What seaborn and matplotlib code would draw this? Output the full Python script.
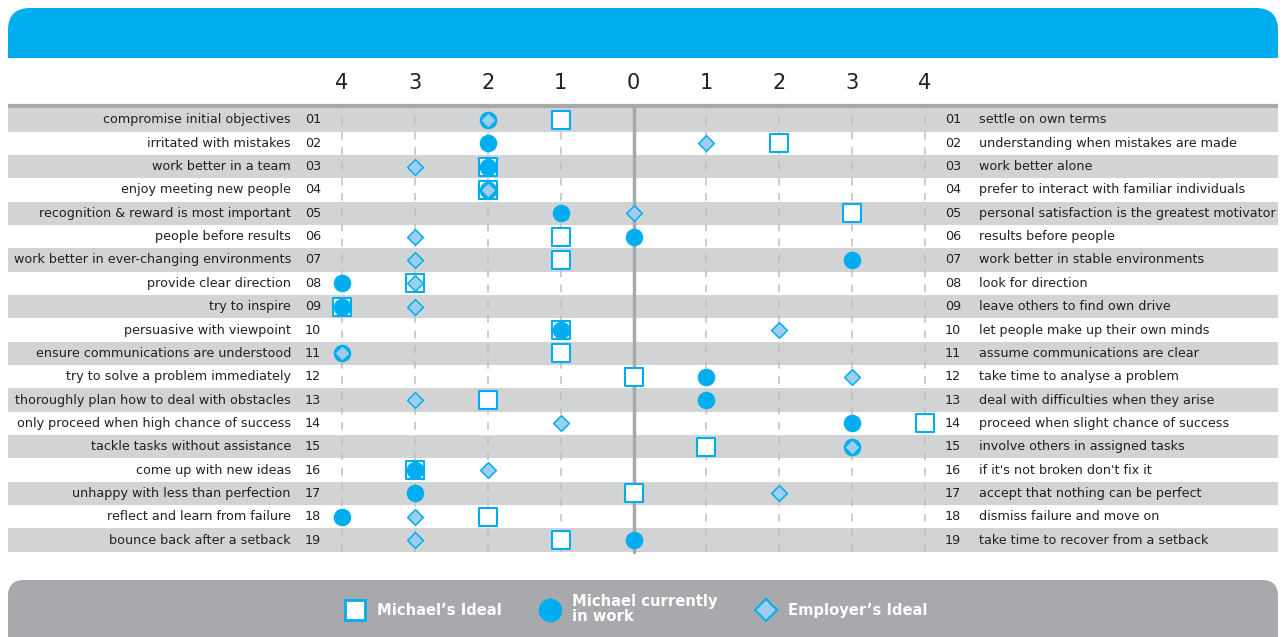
import numpy as np
import pandas as pd
import matplotlib.pyplot as plt
import seaborn as sns
from matplotlib.patches import FancyBboxPatch, Rectangle
from matplotlib.lines import Line2D

# rows 01..19, negative = left-hand statement, positive = right-hand statement
left_labels = [
    "compromise initial objectives", "irritated with mistakes", "work better in a team",
    "enjoy meeting new people", "recognition & reward is most important", "people before results",
    "work better in ever-changing environments", "provide clear direction", "try to inspire",
    "persuasive with viewpoint", "ensure communications are understood",
    "try to solve a problem immediately", "thoroughly plan how to deal with obstacles",
    "only proceed when high chance of success", "tackle tasks without assistance",
    "come up with new ideas", "unhappy with less than perfection",
    "reflect and learn from failure", "bounce back after a setback",
]
right_labels = [
    "settle on own terms", "understanding when mistakes are made", "work better alone",
    "prefer to interact with familiar individuals", "personal satisfaction is the greatest motivator",
    "results before people", "work better in stable environments", "look for direction",
    "leave others to find own drive", "let people make up their own minds",
    "assume communications are clear", "take time to analyse a problem",
    "deal with difficulties when they arise", "proceed when slight chance of success",
    "involve others in assigned tasks", "if it's not broken don't fix it",
    "accept that nothing can be perfect", "dismiss failure and move on",
    "take time to recover from a setback",
]
michael_ideal = [-1, 2, -2, -2, 3, -1, -1, -3, -4, -1, -1, 0, -2, 4, 1, -3, 0, -2, -1]
michael_current = [-2, -2, -2, -2, -1, 0, 3, -4, -4, -1, -4, 1, 1, 3, 3, -3, -3, -4, 0]
employer_ideal = [-2, 1, -3, -2, 0, -3, -3, -3, -3, 2, -4, 3, -3, -1, 3, -2, 2, -3, -3]
tick_values = [-4, -3, -2, -1, 0, 1, 2, 3, 4]
tick_labels = ["4", "3", "2", "1", "0", "1", "2", "3", "4"]
series_names = ["Michael\u2019s Ideal", "Michael currently\nin work", "Employer\u2019s Ideal"]

rows = np.arange(1, 20)
df = pd.concat([
    pd.DataFrame({"row": rows, "score": michael_ideal, "series": series_names[0]}),
    pd.DataFrame({"row": rows, "score": michael_current, "series": series_names[1]}),
    pd.DataFrame({"row": rows, "score": employer_ideal, "series": series_names[2]}),
])

BLUE = "#00AEEF"
LIGHT = "#9ECDF0"
BAND = "#D1D3D4"
GREY = "#A7A9AC"
TEXT = "#231F20"

sns.set_theme(style="white")
plt.rcParams["font.family"] = ["DejaVu Sans"]

W, H = 1286, 637
fig = plt.figure(figsize=(W / 100, H / 100), dpi=100)

# background decoration layer in pixel units
bg = fig.add_axes([0, 0, 1, 1], zorder=0)
bg.set_xlim(0, W)
bg.set_ylim(H, 0)
bg.axis("off")
bg.add_patch(FancyBboxPatch((8, 8), 1270, 50, boxstyle="round,pad=0,rounding_size=22",
                            fc=BLUE, ec="none"))
bg.add_patch(Rectangle((8, 35), 1270, 23, fc=BLUE, ec="none"))
bg.add_patch(FancyBboxPatch((8, 580), 1270, 80, boxstyle="round,pad=0,rounding_size=16",
                            fc=GREY, ec="none"))
bg.plot([8, 1278], [106, 106], color=GREY, lw=3, solid_capstyle="butt")

# main chart axes: x in scale units, centre at 633.5 px, 72.875 px per unit
top_px, bot_px = 108.3, 551.7
ax = fig.add_axes([8 / W, 1 - bot_px / H, 1270 / W, (bot_px - top_px) / H], zorder=1)
ax.patch.set_alpha(0)
unit, cx = 72.875, 633.5
ax.set_xlim((8 - cx) / unit, (1278 - cx) / unit)
ax.set_ylim(19.5, 0.5)
for s in ax.spines.values():
    s.set_visible(False)

for r in rows:
    if r % 2 == 1:
        ax.axhspan(r - 0.5, r + 0.5, color=BAND, zorder=0, lw=0)

for v in tick_values:
    if v == 0:
        ax.axvline(0, color=GREY, lw=2.5, zorder=1, ymax=1.005, clip_on=False)
    else:
        ax.axvline(v, color="#BCBEC0", lw=1.1, ls=(0, (5, 5)), zorder=1)

sub = df[df.series == series_names[0]]
sns.scatterplot(data=sub, x="score", y="row", ax=ax, marker="s", s=155, color="white",
                edgecolor=BLUE, linewidth=1.5, zorder=3, legend=False)
sub = df[df.series == series_names[1]]
sns.scatterplot(data=sub, x="score", y="row", ax=ax, marker="o", s=160, color=BLUE,
                edgecolor=BLUE, linewidth=0, zorder=4, legend=False)
sub = df[df.series == series_names[2]]
sns.scatterplot(data=sub, x="score", y="row", ax=ax, marker="D", s=64, color=LIGHT,
                edgecolor=BLUE, linewidth=1.1, zorder=5, legend=False)

ax.set_xlabel("")
ax.set_ylabel("")
ax.set_yticks([])
ax.xaxis.tick_top()
ax.set_xticks(tick_values)
ax.set_xticklabels(tick_labels, fontsize=15, color=TEXT)
ax.tick_params(axis="x", length=0, pad=11)

fs = 9.15
lx_lab = (291 - cx) / unit
lx_num = (305 - cx) / unit
rx_num = (945 - cx) / unit
rx_lab = (979 - cx) / unit
for i, r in enumerate(rows):
    ax.text(lx_lab, r, left_labels[i], ha="right", va="center", fontsize=fs, color=TEXT)
    ax.text(lx_num, r, f"{r:02d}", ha="left", va="center", fontsize=fs, color=TEXT)
    ax.text(rx_num, r, f"{r:02d}", ha="left", va="center", fontsize=fs, color=TEXT)
    ax.text(rx_lab, r, right_labels[i], ha="left", va="center", fontsize=fs, color=TEXT)

handles = [
    Line2D([], [], ls="none", marker="s", ms=14, mfc="white", mec=BLUE, mew=2),
    Line2D([], [], ls="none", marker="o", ms=16, mfc=BLUE, mec=BLUE),
    Line2D([], [], ls="none", marker="D", ms=11, mfc=LIGHT, mec=BLUE, mew=1.5),
]
leg = fig.legend(handles, series_names, loc="center", bbox_to_anchor=(636 / W, 1 - 609 / H),
                 ncol=3, frameon=False, columnspacing=2.6, handletextpad=0.8,
                 handlelength=1.4, prop={"weight": "bold", "size": 10.6}, labelspacing=0.2)
for t in leg.get_texts():
    t.set_color("white")
    t.set_linespacing(0.95)

fig.savefig("out.png", dpi=100)
